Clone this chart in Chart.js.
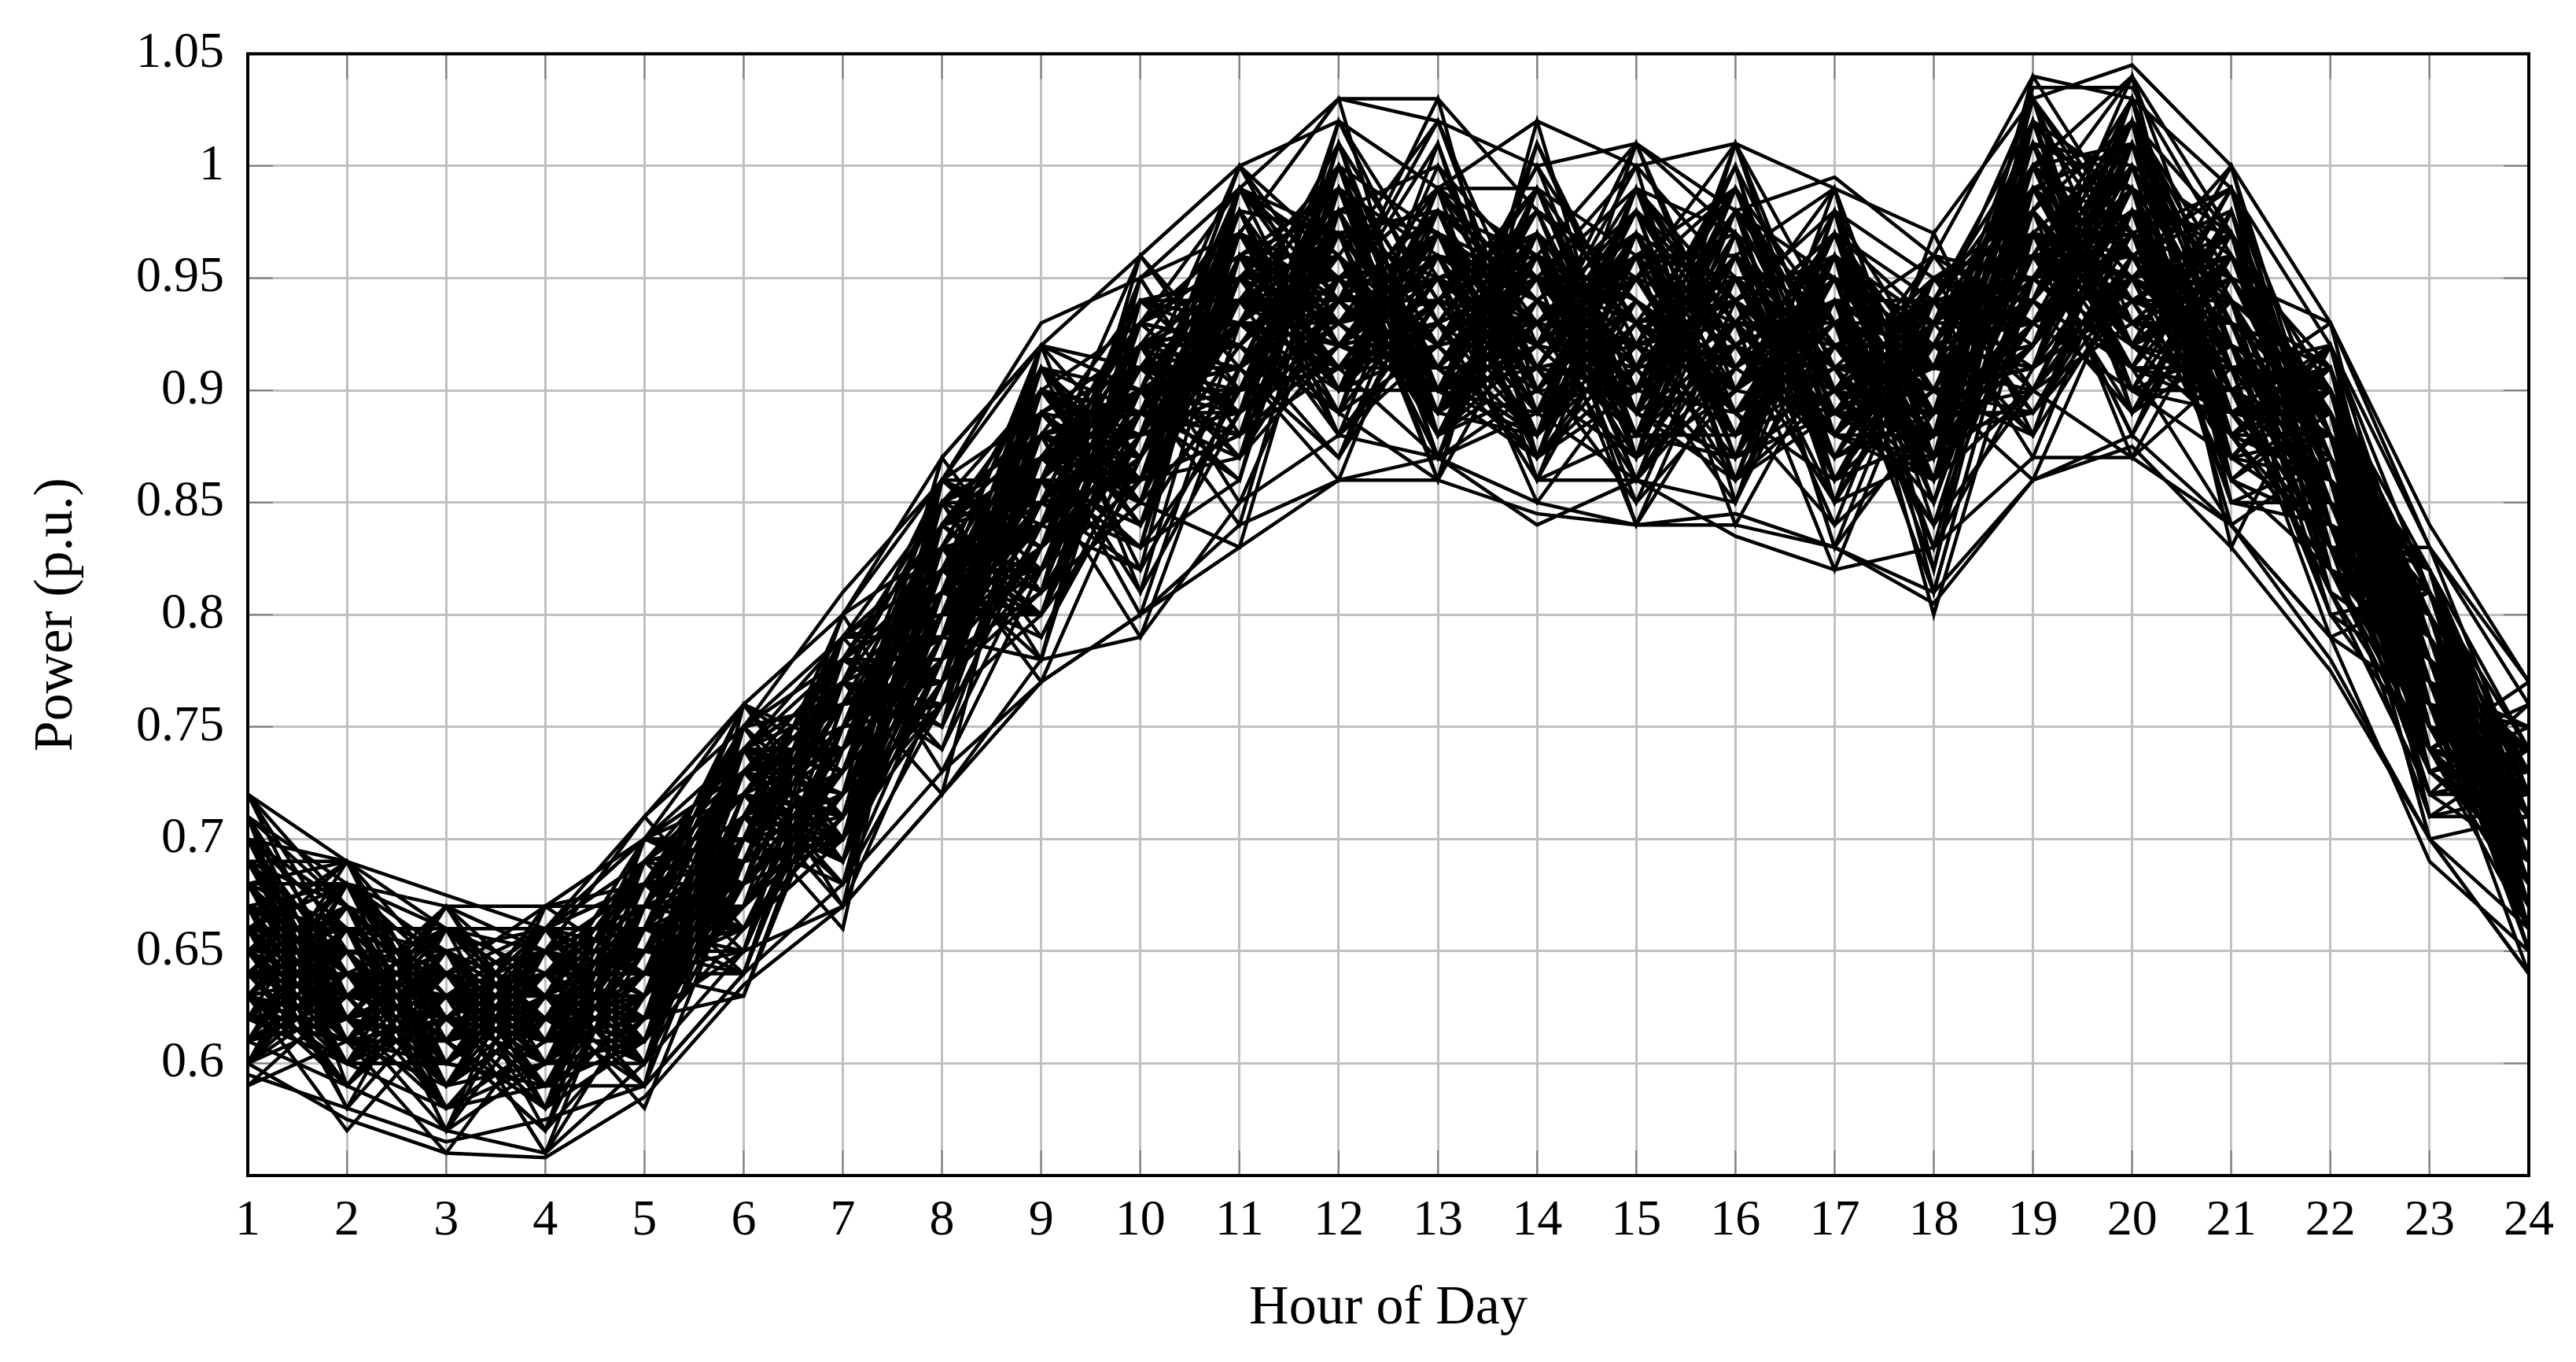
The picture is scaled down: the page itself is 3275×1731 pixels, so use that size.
<!DOCTYPE html>
<html>
<head>
<meta charset="utf-8">
<script src="https://cdn.jsdelivr.net/npm/chart.js@4.4.1/dist/chart.umd.min.js"></script>
<style>
  html, body { margin: 0; padding: 0; background: #fff; }
  #wrap { width: 3275px; height: 1731px; }
</style>
</head>
<body>
<div id="wrap"><canvas id="loadChart" width="3275" height="1731"></canvas></div>
<script>
// hours on the x axis
const hours = [1, 2, 3, 4, 5, 6, 7, 8, 9, 10, 11, 12, 13, 14, 15, 16, 17, 18, 19, 20, 21, 22, 23, 24];
// y axis ticks (p.u.)
const yTicks = [0.55, 0.6, 0.65, 0.7, 0.75, 0.8, 0.85, 0.9, 0.95, 1, 1.05];

// daily load profiles
const profile01 = [0.72, 0.69, 0.66, 0.63, 0.68, 0.74, 0.78, 0.84, 0.90, 0.93, 0.97, 1.03, 1.03, 0.98, 0.95, 0.97, 0.93, 0.91, 1.00, 1.04, 0.97, 0.90, 0.81, 0.74];
const profile02 = [0.60, 0.575, 0.56, 0.558, 0.585, 0.635, 0.67, 0.72, 0.77, 0.80, 0.84, 0.86, 0.87, 0.85, 0.84, 0.84, 0.83, 0.81, 0.86, 0.88, 0.84, 0.78, 0.70, 0.64];
const profile03 = [0.65, 0.62, 0.64, 0.60, 0.66, 0.71, 0.73, 0.80, 0.85, 0.86, 0.93, 0.96, 0.91, 0.95, 0.90, 0.94, 0.90, 0.88, 0.96, 0.94, 0.92, 0.86, 0.77, 0.71];
const profile04 = [0.68, 0.60, 0.62, 0.65, 0.63, 0.69, 0.76, 0.77, 0.87, 0.90, 0.89, 0.93, 0.97, 0.91, 0.96, 0.89, 0.93, 0.86, 0.93, 0.99, 0.88, 0.83, 0.79, 0.68];
const profile05 = [0.62, 0.66, 0.59, 0.62, 0.67, 0.68, 0.72, 0.82, 0.82, 0.88, 0.95, 0.90, 0.94, 0.99, 0.88, 0.92, 0.96, 0.90, 0.91, 0.97, 0.95, 0.87, 0.74, 0.72];
const profile06 = [0.70, 0.64, 0.61, 0.58, 0.61, 0.72, 0.70, 0.79, 0.86, 0.84, 0.91, 0.99, 0.89, 0.92, 1.00, 0.95, 0.87, 0.93, 0.98, 0.92, 0.90, 0.81, 0.78, 0.66];
const profile07 = [0.61, 0.63, 0.67, 0.61, 0.64, 0.66, 0.75, 0.76, 0.80, 0.92, 0.87, 0.94, 1.01, 0.87, 0.93, 0.99, 0.91, 0.84, 0.95, 1.01, 0.86, 0.84, 0.73, 0.70];
const profile08 = [0.66, 0.68, 0.63, 0.66, 0.60, 0.70, 0.68, 0.81, 0.88, 0.85, 0.96, 0.88, 0.92, 0.96, 0.86, 0.91, 0.95, 0.89, 1.035, 1.035, 0.96, 0.89, 0.76, 0.75];
const profile09 = [0.64, 0.59, 0.57, 0.63, 0.69, 0.65, 0.79, 0.74, 0.83, 0.91, 0.94, 0.97, 0.88, 0.94, 0.98, 0.86, 0.89, 0.95, 0.89, 0.96, 0.99, 0.82, 0.80, 0.69];
const profile10 = [0.69, 0.67, 0.65, 0.57, 0.62, 0.75, 0.71, 0.85, 0.79, 0.87, 0.98, 0.92, 0.96, 0.89, 0.91, 1.00, 0.85, 0.87, 0.94, 1.03, 0.87, 0.91, 0.75, 0.72];
const profile11 = [0.59, 0.61, 0.64, 0.66, 0.65, 0.67, 0.73, 0.78, 0.91, 0.82, 0.90, 1.00, 0.93, 0.90, 0.87, 0.93, 0.99, 0.82, 0.99, 0.93, 0.93, 0.85, 0.82, 0.67];
const profile12 = [0.67, 0.65, 0.58, 0.61, 0.70, 0.73, 0.69, 0.83, 0.84, 0.95, 0.88, 0.95, 0.99, 0.86, 0.94, 0.89, 0.92, 0.94, 0.87, 0.98, 0.89, 0.88, 0.71, 0.74];
const profile13 = [0.63, 0.68, 0.62, 0.59, 0.59, 0.64, 0.77, 0.75, 0.87, 0.83, 0.97, 0.89, 0.86, 1.01, 0.92, 0.87, 0.94, 0.91, 1.02, 0.89, 0.94, 0.80, 0.77, 0.71];
const profile14 = [0.71, 0.62, 0.60, 0.64, 0.66, 0.76, 0.74, 0.82, 0.80, 0.89, 0.86, 1.02, 0.95, 0.92, 0.88, 0.97, 0.83, 0.89, 0.92, 1.02, 0.83, 0.92, 0.79, 0.65];
const profile15 = [0.66, 0.58, 0.66, 0.62, 0.61, 0.71, 0.66, 0.86, 0.86, 0.86, 0.99, 0.93, 0.90, 0.88, 1.01, 0.90, 0.97, 0.85, 0.97, 0.95, 1.00, 0.84, 0.72, 0.73];
const profile16 = [0.60, 0.64, 0.61, 0.67, 0.68, 0.68, 0.80, 0.73, 0.82, 0.93, 0.92, 0.87, 0.98, 0.96, 0.85, 0.95, 0.88, 0.96, 0.90, 0.87, 0.91, 0.79, 0.81, 0.70];
const profile17 = [0.68, 0.66, 0.57, 0.60, 0.64, 0.70, 0.72, 0.87, 0.92, 0.81, 0.89, 0.97, 0.92, 0.93, 0.96, 0.84, 0.92, 0.88, 1.04, 0.97, 0.85, 0.87, 0.74, 0.68];
const profile18 = [0.62, 0.60, 0.63, 0.56, 0.63, 0.74, 0.76, 0.79, 0.78, 0.94, 0.94, 0.91, 0.87, 0.99, 0.90, 0.98, 0.86, 0.92, 0.88, 1.00, 0.97, 0.83, 0.83, 0.76];
const profile19 = [0.65, 0.69, 0.60, 0.65, 0.71, 0.66, 0.71, 0.77, 0.89, 0.88, 1.00, 0.94, 1.02, 0.90, 0.94, 0.88, 0.96, 0.80, 0.95, 0.91, 0.90, 0.93, 0.76, 0.64];
const profile20 = [0.70, 0.63, 0.65, 0.63, 0.58, 0.69, 0.78, 0.81, 0.84, 0.90, 0.84, 0.99, 0.91, 0.87, 0.99, 0.93, 0.82, 0.93, 0.99, 0.94, 0.88, 0.86, 0.70, 0.71];
const profile21 = [0.63, 0.57, 0.62, 0.59, 0.67, 0.72, 0.68, 0.84, 0.81, 0.96, 0.91, 0.86, 0.97, 0.94, 0.89, 1.01, 0.93, 0.87, 0.92, 1.01, 0.94, 0.81, 0.78, 0.73];
const profile22 = [0.67, 0.64, 0.59, 0.66, 0.65, 0.64, 0.75, 0.80, 0.90, 0.84, 0.95, 0.96, 0.88, 0.97, 0.84, 0.91, 0.97, 0.90, 0.86, 0.96, 0.98, 0.87, 0.73, 0.69];
const profile23 = [0.61, 0.66, 0.64, 0.60, 0.60, 0.70, 0.70, 0.76, 0.85, 0.91, 0.87, 1.01, 0.94, 0.89, 0.97, 0.86, 0.90, 0.94, 1.01, 0.89, 0.92, 0.84, 0.80, 0.67];
const profile24 = [0.69, 0.61, 0.56, 0.62, 0.69, 0.73, 0.74, 0.83, 0.77, 0.87, 0.96, 0.90, 1.00, 0.91, 0.92, 0.94, 0.84, 0.88, 0.94, 1.04, 0.86, 0.90, 0.77, 0.75];
const profile25 = [0.64, 0.67, 0.63, 0.64, 0.62, 0.67, 0.72, 0.78, 0.88, 0.80, 0.93, 0.97, 0.86, 1.02, 0.87, 0.90, 0.98, 0.81, 0.97, 0.92, 0.99, 0.82, 0.75, 0.70];
const profile26 = [0.66, 0.62, 0.61, 0.57, 0.66, 0.75, 0.69, 0.85, 0.83, 0.89, 0.89, 0.92, 0.95, 0.88, 0.95, 0.99, 0.89, 0.91, 0.90, 0.99, 0.87, 0.88, 0.82, 0.66];
const profile27 = [0.72, 0.65, 0.58, 0.63, 0.63, 0.69, 0.77, 0.74, 0.86, 0.92, 0.98, 0.88, 0.93, 0.95, 1.00, 0.85, 0.94, 0.86, 1.03, 0.93, 0.95, 0.86, 0.72, 0.72];
const profile28 = [0.60, 0.68, 0.66, 0.61, 0.68, 0.66, 0.70, 0.82, 0.91, 0.85, 0.83, 0.98, 0.89, 0.92, 0.91, 0.96, 0.91, 0.95, 0.93, 0.97, 0.90, 0.91, 0.79, 0.69];
const profile29 = [0.62, 0.60, 0.60, 0.65, 0.61, 0.71, 0.79, 0.80, 0.80, 0.93, 0.95, 0.95, 0.99, 0.86, 0.86, 0.92, 0.87, 0.89, 0.96, 0.91, 0.84, 0.79, 0.76, 0.74];
const profile30 = [0.68, 0.64, 0.62, 0.58, 0.70, 0.74, 0.67, 0.77, 0.89, 0.86, 0.97, 1.03, 0.88, 0.96, 0.93, 0.89, 0.95, 0.83, 0.99, 1.01, 0.93, 0.85, 0.78, 0.65];
const profile31 = [0.65, 0.66, 0.57, 0.67, 0.64, 0.63, 0.74, 0.86, 0.84, 0.82, 0.90, 0.91, 0.96, 0.93, 0.98, 0.94, 0.85, 0.97, 0.88, 0.95, 0.97, 0.83, 0.71, 0.71];
const profile32 = [0.63, 0.59, 0.65, 0.62, 0.59, 0.70, 0.76, 0.79, 0.86, 0.94, 0.92, 0.89, 0.92, 1.00, 0.89, 0.87, 0.99, 0.87, 1.02, 0.90, 0.89, 0.89, 0.80, 0.68];
const profile33 = [0.70, 0.67, 0.63, 0.56, 0.67, 0.72, 0.71, 0.81, 0.79, 0.88, 1.00, 0.96, 0.87, 0.90, 0.95, 1.01, 0.88, 0.92, 0.91, 1.03, 0.85, 0.84, 0.74, 0.76];
const profile34 = [0.61, 0.63, 0.59, 0.64, 0.62, 0.65, 0.78, 0.75, 0.92, 0.90, 0.88, 0.94, 1.03, 0.87, 0.90, 0.93, 0.92, 0.90, 0.97, 0.88, 0.96, 0.87, 0.77, 0.70];
const profile35 = [0.66, 0.61, 0.67, 0.60, 0.65, 0.69, 0.73, 0.84, 0.87, 0.85, 0.94, 0.99, 0.91, 0.97, 0.86, 0.85, 0.96, 0.86, 0.95, 1.00, 0.92, 0.80, 0.81, 0.67];
const profile36 = [0.67, 0.65, 0.60, 0.65, 0.71, 0.76, 0.70, 0.78, 0.83, 0.91, 0.91, 0.87, 0.94, 0.92, 1.01, 0.97, 0.83, 0.94, 0.89, 0.96, 0.88, 0.92, 0.75, 0.73];
const profile37 = [0.64, 0.68, 0.61, 0.62, 0.61, 0.68, 0.80, 0.83, 0.88, 0.87, 0.97, 0.93, 0.89, 0.88, 0.93, 0.90, 0.93, 0.88, 1.01, 0.92, 1.00, 0.86, 0.72, 0.69];
const profile38 = [0.69, 0.62, 0.64, 0.59, 0.66, 0.71, 0.75, 0.80, 0.85, 0.83, 0.86, 1.00, 0.97, 0.94, 0.88, 0.99, 0.90, 0.96, 0.93, 0.98, 0.91, 0.85, 0.79, 0.71];
const profile39 = [0.62, 0.66, 0.62, 0.66, 0.63, 0.67, 0.72, 0.87, 0.81, 0.92, 0.93, 0.92, 0.90, 0.99, 0.96, 0.88, 0.97, 0.84, 0.98, 0.87, 0.95, 0.88, 0.78, 0.66];
const profile40 = [0.67, 0.60, 0.58, 0.61, 0.68, 0.73, 0.68, 0.76, 0.90, 0.89, 0.90, 0.97, 0.95, 0.85, 0.91, 0.96, 0.86, 0.92, 0.91, 1.02, 0.93, 0.82, 0.73, 0.74];
const profile41 = [0.70, 0.66, 0.62, 0.61, 0.64, 0.71, 0.74, 0.78, 0.81, 0.85, 0.95, 1.00, 0.90, 0.87, 0.92, 1.00, 0.86, 0.94, 1.00, 0.90, 0.87, 0.84, 0.76, 0.70];
const profile42 = [0.63, 0.62, 0.66, 0.63, 0.70, 0.69, 0.70, 0.84, 0.86, 0.79, 0.91, 0.87, 0.96, 0.95, 0.84, 0.94, 0.91, 0.86, 0.94, 0.99, 0.95, 0.93, 0.83, 0.72];
const profile43 = [0.66, 0.60, 0.60, 0.64, 0.60, 0.74, 0.77, 0.72, 0.89, 0.92, 0.85, 0.95, 0.92, 1.00, 0.93, 0.86, 0.98, 0.91, 0.92, 1.03, 0.91, 0.80, 0.74, 0.77];
const profile44 = [0.61, 0.67, 0.58, 0.59, 0.66, 0.65, 0.75, 0.82, 0.78, 0.95, 0.97, 0.89, 1.01, 0.89, 0.98, 0.92, 0.85, 0.93, 0.97, 0.88, 0.98, 0.86, 0.70, 0.66];
const profile45 = [0.68, 0.63, 0.65, 0.62, 0.62, 0.72, 0.67, 0.86, 0.92, 0.87, 0.93, 0.98, 0.86, 0.94, 0.90, 0.98, 0.89, 0.88, 0.89, 0.95, 0.86, 0.89, 0.79, 0.71];
const profile46 = [0.64, 0.65, 0.61, 0.67, 0.67, 0.67, 0.79, 0.79, 0.82, 0.90, 1.00, 0.92, 0.95, 0.91, 0.85, 0.90, 0.94, 0.82, 1.02, 0.97, 0.92, 0.82, 0.78, 0.68];
const profile47 = [0.71, 0.59, 0.63, 0.60, 0.65, 0.70, 0.72, 0.80, 0.87, 0.83, 0.89, 1.02, 0.93, 0.86, 0.97, 0.88, 0.93, 0.96, 0.95, 0.91, 0.99, 0.88, 0.73, 0.74];
const profile48 = [0.60, 0.66, 0.64, 0.63, 0.59, 0.76, 0.73, 0.84, 0.85, 0.94, 0.94, 0.94, 0.89, 1.01, 0.91, 0.95, 0.87, 0.90, 0.91, 1.02, 0.89, 0.83, 0.81, 0.69];
const profile49 = [0.67, 0.62, 0.57, 0.65, 0.68, 0.64, 0.76, 0.77, 0.91, 0.86, 0.87, 0.97, 0.98, 0.88, 0.99, 0.87, 0.96, 0.85, 0.99, 0.93, 0.93, 0.91, 0.77, 0.65];
const profile50 = [0.62, 0.69, 0.62, 0.58, 0.63, 0.71, 0.69, 0.83, 0.80, 0.89, 0.98, 0.90, 0.92, 0.97, 0.87, 1.01, 0.90, 0.89, 0.93, 0.98, 0.85, 0.85, 0.75, 0.73];
const profile51 = [0.69, 0.64, 0.60, 0.66, 0.70, 0.73, 0.78, 0.75, 0.84, 0.93, 0.92, 0.96, 1.02, 0.92, 0.95, 0.89, 0.84, 0.95, 0.96, 0.89, 0.96, 0.87, 0.80, 0.70];
const profile52 = [0.65, 0.61, 0.65, 0.61, 0.61, 0.66, 0.71, 0.81, 0.88, 0.81, 0.96, 0.88, 0.94, 0.93, 0.86, 0.96, 0.99, 0.87, 1.03, 0.96, 0.90, 0.81, 0.72, 0.76];
const profile53 = [0.72, 0.67, 0.59, 0.62, 0.66, 0.70, 0.80, 0.86, 0.83, 0.91, 0.89, 0.99, 0.87, 0.96, 1.01, 0.91, 0.88, 0.93, 0.88, 1.01, 0.94, 0.90, 0.78, 0.67];
const profile54 = [0.59, 0.63, 0.63, 0.64, 0.64, 0.74, 0.70, 0.78, 0.90, 0.88, 0.93, 0.93, 0.97, 0.87, 0.92, 0.93, 0.93, 0.81, 0.97, 0.94, 0.87, 0.86, 0.82, 0.71];
const profile55 = [0.66, 0.65, 0.61, 0.57, 0.69, 0.68, 0.74, 0.80, 0.86, 0.96, 0.90, 0.91, 0.91, 0.98, 0.88, 0.88, 0.97, 0.91, 0.92, 1.00, 0.97, 0.83, 0.76, 0.72];
const profile56 = [0.63, 0.60, 0.67, 0.63, 0.62, 0.63, 0.75, 0.84, 0.81, 0.85, 0.99, 0.95, 0.96, 0.90, 0.96, 0.99, 0.87, 0.94, 0.95, 0.92, 0.91, 0.92, 0.74, 0.69];
const profile57 = [0.68, 0.68, 0.62, 0.65, 0.60, 0.71, 0.69, 0.79, 0.92, 0.90, 0.86, 1.01, 0.90, 0.94, 0.89, 0.86, 0.92, 0.89, 1.01, 0.99, 0.84, 0.87, 0.80, 0.73];
const profile58 = [0.64, 0.62, 0.58, 0.61, 0.67, 0.75, 0.78, 0.82, 0.84, 0.87, 0.95, 0.89, 0.99, 0.99, 0.93, 0.94, 0.90, 0.84, 0.90, 0.95, 0.96, 0.84, 0.77, 0.66];
const profile59 = [0.70, 0.66, 0.64, 0.60, 0.63, 0.69, 0.73, 0.85, 0.78, 0.92, 0.91, 0.96, 0.88, 0.91, 0.97, 0.90, 0.95, 0.92, 0.98, 1.04, 0.92, 0.89, 0.71, 0.72];
const profile60 = [0.61, 0.64, 0.61, 0.66, 0.65, 0.66, 0.71, 0.76, 0.89, 0.84, 0.97, 0.92, 0.93, 0.86, 0.88, 0.97, 0.86, 0.88, 0.93, 0.90, 0.98, 0.82, 0.79, 0.70];
const profile61 = [0.67, 0.58, 0.63, 0.63, 0.70, 0.72, 0.77, 0.81, 0.82, 0.89, 0.88, 0.98, 1.00, 0.95, 0.91, 0.85, 0.98, 0.95, 0.96, 0.97, 0.89, 0.90, 0.76, 0.75];
const profile62 = [0.65, 0.67, 0.60, 0.59, 0.61, 0.70, 0.72, 0.79, 0.88, 0.94, 0.93, 0.90, 0.90, 0.92, 0.99, 0.92, 0.89, 0.86, 1.00, 0.92, 0.95, 0.86, 0.74, 0.68];
const profile63 = [0.62, 0.61, 0.66, 0.64, 0.66, 0.64, 0.76, 0.84, 0.85, 0.82, 0.99, 0.94, 0.94, 0.98, 0.87, 0.98, 0.93, 0.90, 0.91, 0.99, 0.90, 0.83, 0.81, 0.71];
const profile64 = [0.69, 0.65, 0.59, 0.62, 0.63, 0.73, 0.70, 0.77, 0.91, 0.90, 0.91, 1.00, 0.87, 0.89, 0.94, 0.89, 0.96, 0.93, 0.97, 0.88, 0.96, 0.91, 0.78, 0.65];
const profile65 = [0.66, 0.63, 0.62, 0.66, 0.68, 0.71, 0.79, 0.83, 0.80, 0.86, 0.96, 0.93, 0.96, 0.94, 0.90, 0.94, 0.88, 0.87, 1.02, 0.96, 0.93, 0.85, 0.75, 0.73];
const profile66 = [0.60, 0.66, 0.64, 0.61, 0.64, 0.67, 0.73, 0.80, 0.87, 0.93, 0.89, 0.97, 0.91, 0.87, 0.96, 0.96, 0.91, 0.91, 0.94, 1.02, 0.88, 0.88, 0.80, 0.69];
const profile67 = [0.68, 0.62, 0.61, 0.64, 0.59, 0.75, 0.71, 0.86, 0.83, 0.88, 0.94, 0.88, 0.99, 0.96, 0.88, 0.87, 0.97, 0.89, 0.89, 0.94, 0.97, 0.84, 0.72, 0.72];
const profile68 = [0.63, 0.68, 0.65, 0.60, 0.67, 0.69, 0.78, 0.78, 0.86, 0.91, 0.97, 0.95, 0.88, 0.92, 0.98, 0.93, 0.89, 0.94, 0.99, 0.91, 0.91, 0.90, 0.79, 0.67];
const profile69 = [0.71, 0.64, 0.60, 0.65, 0.66, 0.68, 0.74, 0.81, 0.89, 0.85, 0.90, 0.99, 0.93, 0.99, 0.89, 0.98, 0.85, 0.92, 0.93, 1.01, 0.86, 0.82, 0.77, 0.74];
const profile70 = [0.64, 0.60, 0.63, 0.62, 0.62, 0.72, 0.69, 0.83, 0.82, 0.92, 0.95, 0.91, 0.97, 0.90, 0.95, 0.90, 0.95, 0.85, 0.97, 0.96, 0.94, 0.87, 0.74, 0.70];
const profile71 = [0.67, 0.66, 0.66, 0.58, 0.65, 0.65, 0.75, 0.76, 0.90, 0.87, 0.98, 0.97, 0.91, 0.88, 0.93, 0.95, 0.92, 0.91, 1.00, 0.90, 0.90, 0.86, 0.81, 0.72];
const profile72 = [0.62, 0.63, 0.58, 0.63, 0.69, 0.74, 0.72, 0.82, 0.84, 0.89, 0.87, 0.94, 0.95, 0.97, 0.87, 0.91, 0.97, 0.88, 0.92, 0.99, 0.96, 0.89, 0.76, 0.68];
const profile73 = [0.69, 0.67, 0.62, 0.66, 0.61, 0.70, 0.77, 0.85, 0.88, 0.86, 0.93, 1.00, 0.89, 0.94, 0.97, 0.87, 0.90, 0.93, 0.96, 0.93, 0.92, 0.84, 0.78, 0.71];
const profile74 = [0.65, 0.59, 0.64, 0.61, 0.66, 0.66, 0.71, 0.79, 0.86, 0.93, 0.96, 0.90, 0.98, 0.91, 0.90, 0.99, 0.88, 0.86, 1.01, 1.00, 0.87, 0.91, 0.73, 0.75];
const profile75 = [0.60, 0.65, 0.61, 0.64, 0.68, 0.73, 0.76, 0.77, 0.81, 0.88, 0.90, 0.96, 0.92, 0.96, 0.94, 0.89, 0.95, 0.90, 0.89, 0.97, 0.99, 0.83, 0.80, 0.66];
const profile76 = [0.68, 0.61, 0.65, 0.60, 0.63, 0.68, 0.73, 0.84, 0.90, 0.84, 0.97, 0.92, 0.96, 0.89, 0.99, 0.93, 0.87, 0.95, 0.94, 0.91, 0.89, 0.88, 0.75, 0.73];
const profile77 = [0.66, 0.66, 0.59, 0.65, 0.64, 0.71, 0.70, 0.80, 0.85, 0.91, 0.92, 0.98, 0.90, 0.97, 0.86, 0.97, 0.93, 0.89, 0.98, 1.02, 0.94, 0.85, 0.77, 0.69];
const profile78 = [0.63, 0.64, 0.63, 0.59, 0.67, 0.75, 0.78, 0.81, 0.87, 0.86, 0.95, 0.91, 0.97, 0.93, 0.92, 0.88, 0.96, 0.87, 0.90, 0.95, 0.91, 0.90, 0.82, 0.72];
const profile79 = [0.70, 0.62, 0.60, 0.63, 0.62, 0.67, 0.72, 0.78, 0.83, 0.95, 0.88, 1.01, 0.94, 0.88, 0.96, 0.95, 0.86, 0.93, 1.03, 0.89, 0.97, 0.81, 0.74, 0.70];
const profile80 = [0.64, 0.68, 0.64, 0.67, 0.70, 0.70, 0.75, 0.83, 0.91, 0.89, 0.94, 0.95, 0.89, 0.95, 0.89, 0.92, 0.94, 0.91, 0.95, 0.98, 0.88, 0.86, 0.79, 0.68];
const profile81 = [0.595, 0.58, 0.565, 0.575, 0.59, 0.64, 0.68, 0.73, 0.77, 0.80, 0.83, 0.86, 0.86, 0.845, 0.84, 0.845, 0.83, 0.805, 0.86, 0.875, 0.83, 0.775, 0.70, 0.64];
const profile82 = [0.61, 0.59, 0.57, 0.56, 0.60, 0.65, 0.67, 0.72, 0.78, 0.79, 0.85, 0.88, 0.87, 0.84, 0.86, 0.835, 0.82, 0.83, 0.87, 0.87, 0.84, 0.79, 0.69, 0.65];
const profile83 = [0.71, 0.68, 0.67, 0.67, 0.70, 0.76, 0.80, 0.87, 0.92, 0.96, 1.00, 1.02, 0.99, 1.02, 1.00, 1.01, 0.99, 0.97, 1.03, 1.045, 1.00, 0.93, 0.84, 0.77];
const profile84 = [0.70, 0.69, 0.675, 0.66, 0.71, 0.75, 0.81, 0.86, 0.93, 0.95, 0.99, 1.03, 1.02, 1.00, 1.01, 0.98, 0.995, 0.96, 1.04, 1.03, 0.99, 0.92, 0.83, 0.77];
const profile85 = [0.69, 0.63, 0.64, 0.61, 0.67, 0.73, 0.71, 0.81, 0.86, 0.90, 0.93, 0.89, 0.95, 0.93, 0.88, 0.95, 0.89, 0.92, 0.98, 0.93, 0.95, 0.87, 0.76, 0.69];
const profile86 = [0.62, 0.65, 0.60, 0.63, 0.63, 0.68, 0.77, 0.79, 0.83, 0.87, 0.96, 0.98, 0.90, 0.96, 0.93, 0.91, 0.94, 0.87, 0.92, 0.97, 0.89, 0.85, 0.79, 0.73];
const profile87 = [0.67, 0.61, 0.62, 0.66, 0.69, 0.70, 0.73, 0.84, 0.89, 0.84, 0.91, 0.94, 0.98, 0.90, 0.97, 0.88, 0.91, 0.90, 1.00, 0.95, 0.92, 0.90, 0.75, 0.70];
const profile88 = [0.64, 0.67, 0.65, 0.62, 0.60, 0.72, 0.76, 0.77, 0.82, 0.92, 0.94, 0.92, 0.93, 0.99, 0.90, 0.97, 0.87, 0.94, 0.94, 0.99, 0.86, 0.84, 0.80, 0.67];
const profile89 = [0.71, 0.64, 0.58, 0.60, 0.65, 0.66, 0.70, 0.82, 0.87, 0.88, 0.89, 0.99, 0.88, 0.93, 0.95, 0.93, 0.97, 0.88, 0.97, 0.90, 0.96, 0.88, 0.73, 0.75];
const profile90 = [0.60, 0.62, 0.63, 0.65, 0.66, 0.74, 0.74, 0.80, 0.84, 0.91, 0.97, 0.91, 0.96, 0.87, 0.92, 0.90, 0.93, 0.83, 0.91, 1.01, 0.90, 0.83, 0.78, 0.71];
const profile91 = [0.66, 0.69, 0.61, 0.62, 0.62, 0.69, 0.78, 0.85, 0.90, 0.86, 0.92, 0.96, 0.91, 0.95, 0.99, 0.94, 0.88, 0.92, 0.99, 0.94, 0.93, 0.89, 0.81, 0.68];
const profile92 = [0.63, 0.60, 0.64, 0.58, 0.68, 0.71, 0.69, 0.78, 0.85, 0.94, 0.90, 0.93, 0.99, 0.91, 0.87, 0.98, 0.92, 0.89, 0.95, 0.96, 0.98, 0.86, 0.76, 0.73];
const profile93 = [0.68, 0.66, 0.60, 0.64, 0.64, 0.65, 0.75, 0.83, 0.81, 0.85, 0.98, 0.90, 0.94, 0.97, 0.91, 0.86, 0.96, 0.91, 1.02, 0.92, 0.88, 0.82, 0.74, 0.66];
const profile94 = [0.65, 0.63, 0.66, 0.63, 0.61, 0.73, 0.72, 0.76, 0.88, 0.89, 0.93, 1.01, 0.88, 0.90, 0.96, 0.92, 0.90, 0.86, 0.90, 0.98, 0.94, 0.91, 0.79, 0.72];
const profile95 = [0.61, 0.67, 0.62, 0.60, 0.69, 0.70, 0.77, 0.86, 0.83, 0.92, 0.87, 0.92, 0.97, 0.94, 0.89, 0.95, 0.95, 0.93, 0.96, 1.03, 0.91, 0.85, 0.77, 0.70];
const profile96 = [0.70, 0.61, 0.59, 0.66, 0.63, 0.67, 0.71, 0.80, 0.91, 0.87, 0.95, 0.97, 0.92, 0.88, 0.94, 0.89, 0.86, 0.90, 0.98, 0.91, 0.96, 0.88, 0.82, 0.74];
const profile97 = [0.64, 0.64, 0.64, 0.61, 0.66, 0.75, 0.79, 0.79, 0.86, 0.83, 0.99, 0.90, 0.95, 0.96, 0.90, 1.00, 0.91, 0.87, 0.93, 0.97, 0.87, 0.92, 0.75, 0.67];
const profile98 = [0.67, 0.68, 0.61, 0.63, 0.60, 0.68, 0.73, 0.84, 0.80, 0.90, 0.91, 0.95, 0.89, 0.92, 0.98, 0.91, 0.97, 0.94, 0.91, 0.95, 0.93, 0.84, 0.78, 0.71];
const profile99 = [0.62, 0.62, 0.67, 0.65, 0.68, 0.72, 0.68, 0.78, 0.87, 0.93, 0.96, 0.99, 0.96, 0.89, 0.86, 0.93, 0.89, 0.89, 0.99, 0.99, 0.90, 0.87, 0.80, 0.69];
const profile100 = [0.69, 0.65, 0.60, 0.59, 0.64, 0.64, 0.76, 0.82, 0.85, 0.86, 0.88, 0.91, 0.93, 0.98, 0.95, 0.88, 0.94, 0.92, 0.94, 0.89, 0.97, 0.90, 0.73, 0.74];
const profile101 = [0.66, 0.60, 0.63, 0.64, 0.65, 0.71, 0.74, 0.81, 0.92, 0.91, 0.94, 0.96, 0.90, 0.93, 0.89, 0.96, 0.90, 0.85, 1.00, 0.96, 0.89, 0.83, 0.77, 0.68];
const profile102 = [0.63, 0.66, 0.62, 0.62, 0.67, 0.76, 0.71, 0.77, 0.83, 0.88, 0.97, 0.92, 0.98, 0.95, 0.93, 0.90, 0.96, 0.90, 0.88, 1.00, 0.92, 0.86, 0.81, 0.72];
const profile103 = [0.72, 0.63, 0.65, 0.60, 0.61, 0.69, 0.79, 0.85, 0.88, 0.90, 0.90, 0.98, 0.91, 0.91, 0.97, 0.94, 0.88, 0.93, 0.96, 0.93, 0.95, 0.89, 0.76, 0.70];
const profile104 = [0.61, 0.68, 0.59, 0.66, 0.68, 0.66, 0.72, 0.80, 0.86, 0.84, 0.95, 0.93, 0.95, 0.88, 0.92, 0.99, 0.93, 0.88, 1.01, 0.90, 0.90, 0.85, 0.74, 0.73];
const profile105 = [0.68, 0.62, 0.64, 0.62, 0.63, 0.73, 0.75, 0.83, 0.82, 0.93, 0.92, 0.96, 0.87, 0.97, 0.88, 0.87, 0.95, 0.91, 0.92, 0.98, 0.87, 0.91, 0.79, 0.66];
const profile106 = [0.65, 0.65, 0.61, 0.58, 0.70, 0.68, 0.70, 0.79, 0.90, 0.87, 0.98, 0.90, 0.97, 0.92, 0.96, 0.92, 0.89, 0.95, 0.97, 0.94, 0.94, 0.84, 0.82, 0.71];
const profile107 = [0.63, 0.61, 0.66, 0.65, 0.62, 0.71, 0.77, 0.76, 0.84, 0.91, 0.89, 1.00, 0.93, 0.95, 0.91, 0.95, 0.92, 0.86, 0.95, 1.02, 0.91, 0.88, 0.76, 0.69];
const profile108 = [0.70, 0.67, 0.60, 0.63, 0.66, 0.74, 0.73, 0.85, 0.87, 0.85, 0.96, 0.94, 0.90, 0.89, 0.99, 0.89, 0.96, 0.92, 0.99, 0.92, 0.96, 0.87, 0.78, 0.74];
const profile109 = [0.67, 0.64, 0.63, 0.61, 0.64, 0.67, 0.71, 0.81, 0.89, 0.92, 0.93, 0.89, 0.99, 0.94, 0.87, 0.97, 0.87, 0.89, 0.90, 0.96, 0.88, 0.82, 0.80, 0.67];
const profile110 = [0.62, 0.60, 0.65, 0.66, 0.69, 0.70, 0.78, 0.78, 0.81, 0.88, 0.99, 0.97, 0.92, 0.98, 0.94, 0.91, 0.94, 0.94, 1.02, 0.99, 0.93, 0.90, 0.75, 0.72];
const profile111 = [0.66, 0.66, 0.59, 0.60, 0.61, 0.72, 0.74, 0.84, 0.88, 0.90, 0.91, 0.95, 0.96, 0.90, 0.90, 0.94, 0.98, 0.87, 0.94, 0.91, 0.99, 0.86, 0.77, 0.70];
const profile112 = [0.64, 0.63, 0.62, 0.64, 0.67, 0.66, 0.70, 0.80, 0.85, 0.94, 0.95, 0.99, 0.89, 0.93, 0.97, 0.88, 0.90, 0.91, 0.97, 1.01, 0.89, 0.89, 0.81, 0.68];
const profile113 = [0.69, 0.69, 0.64, 0.62, 0.63, 0.75, 0.76, 0.77, 0.91, 0.86, 0.88, 0.92, 0.95, 0.96, 0.89, 0.96, 0.93, 0.93, 0.93, 0.95, 0.92, 0.84, 0.74, 0.73];
const profile114 = [0.61, 0.62, 0.61, 0.65, 0.68, 0.69, 0.73, 0.83, 0.84, 0.89, 0.97, 0.94, 0.91, 0.88, 0.95, 0.90, 0.89, 0.88, 1.00, 0.97, 0.95, 0.87, 0.79, 0.71];
const profile115 = [0.65, 0.65, 0.65, 0.59, 0.62, 0.71, 0.79, 0.82, 0.86, 0.92, 0.92, 0.97, 0.98, 0.94, 0.92, 0.98, 0.95, 0.90, 0.91, 1.02, 0.88, 0.91, 0.76, 0.66];
const profile116 = [0.68, 0.61, 0.60, 0.63, 0.66, 0.73, 0.70, 0.79, 0.82, 0.86, 0.96, 0.91, 0.92, 0.97, 0.88, 0.93, 0.88, 0.95, 0.98, 0.93, 0.97, 0.85, 0.78, 0.74];
const profile117 = [0.63, 0.67, 0.63, 0.66, 0.64, 0.67, 0.75, 0.86, 0.89, 0.91, 0.90, 0.98, 0.90, 0.91, 0.98, 0.87, 0.97, 0.86, 0.96, 0.96, 0.90, 0.88, 0.82, 0.69];
const profile118 = [0.70, 0.64, 0.62, 0.61, 0.69, 0.70, 0.72, 0.78, 0.87, 0.88, 0.94, 0.93, 0.97, 0.89, 0.93, 0.95, 0.91, 0.92, 1.01, 0.94, 0.93, 0.83, 0.75, 0.72];
const profile119 = [0.64, 0.62, 0.66, 0.64, 0.61, 0.74, 0.77, 0.81, 0.80, 0.93, 0.99, 0.96, 0.89, 0.96, 0.90, 0.89, 0.94, 0.89, 0.92, 0.99, 0.86, 0.90, 0.77, 0.68];
const profile120 = [0.66, 0.68, 0.59, 0.62, 0.65, 0.66, 0.71, 0.85, 0.85, 0.89, 0.93, 0.91, 0.94, 0.93, 0.96, 0.96, 0.86, 0.93, 0.97, 0.91, 0.98, 0.86, 0.80, 0.73];
const profile121 = [0.62, 0.65, 0.64, 0.60, 0.67, 0.72, 0.78, 0.77, 0.90, 0.85, 0.96, 0.99, 0.92, 0.87, 0.91, 0.92, 0.96, 0.91, 0.94, 1.00, 0.91, 0.89, 0.73, 0.70];
const profile122 = [0.69, 0.61, 0.61, 0.65, 0.62, 0.68, 0.74, 0.82, 0.86, 0.92, 0.89, 0.94, 0.97, 0.95, 0.95, 0.88, 0.92, 0.87, 0.99, 0.96, 0.94, 0.85, 0.79, 0.67];
const profile123 = [0.67, 0.66, 0.65, 0.63, 0.68, 0.75, 0.69, 0.80, 0.83, 0.87, 0.98, 0.92, 0.90, 0.98, 0.89, 0.99, 0.89, 0.94, 0.90, 0.93, 0.89, 0.92, 0.81, 0.74];
const profile124 = [0.60, 0.63, 0.62, 0.61, 0.63, 0.70, 0.76, 0.84, 0.88, 0.90, 0.91, 0.97, 0.95, 0.91, 0.97, 0.91, 0.95, 0.90, 0.96, 1.02, 0.95, 0.87, 0.76, 0.71];
const profile125 = [0.71, 0.67, 0.60, 0.64, 0.66, 0.67, 0.72, 0.79, 0.84, 0.94, 0.95, 0.90, 0.99, 0.93, 0.88, 0.95, 0.88, 0.88, 1.02, 0.90, 0.92, 0.84, 0.78, 0.69];
const profile126 = [0.65, 0.60, 0.63, 0.62, 0.64, 0.73, 0.77, 0.83, 0.91, 0.86, 0.92, 0.96, 0.88, 0.96, 0.94, 0.90, 0.93, 0.92, 0.93, 0.98, 0.97, 0.88, 0.74, 0.73];
const profile127 = [0.63, 0.64, 0.66, 0.66, 0.70, 0.69, 0.73, 0.78, 0.85, 0.91, 0.97, 0.93, 0.94, 0.89, 0.99, 0.97, 0.90, 0.85, 0.97, 0.95, 0.88, 0.90, 0.80, 0.66];
const profile128 = [0.68, 0.69, 0.62, 0.59, 0.61, 0.71, 0.70, 0.86, 0.82, 0.88, 0.90, 0.98, 0.97, 0.94, 0.90, 0.93, 0.97, 0.93, 1.00, 1.01, 0.93, 0.83, 0.77, 0.72];
const profile129 = [0.66, 0.63, 0.59, 0.63, 0.65, 0.74, 0.79, 0.80, 0.87, 0.92, 0.93, 0.91, 0.92, 0.97, 0.93, 0.89, 0.91, 0.90, 0.91, 0.94, 0.96, 0.86, 0.82, 0.70];
const profile130 = [0.61, 0.66, 0.64, 0.65, 0.67, 0.66, 0.75, 0.82, 0.89, 0.84, 0.96, 0.95, 0.96, 0.90, 0.96, 0.96, 0.87, 0.94, 0.95, 0.99, 0.90, 0.91, 0.75, 0.74];
const profile131 = [0.69, 0.62, 0.63, 0.61, 0.62, 0.70, 0.71, 0.77, 0.83, 0.89, 0.99, 0.93, 0.89, 0.92, 0.91, 0.92, 0.94, 0.87, 0.98, 0.92, 0.94, 0.85, 0.79, 0.68];
const profile132 = [0.64, 0.68, 0.61, 0.64, 0.69, 0.72, 0.78, 0.84, 0.86, 0.93, 0.89, 0.97, 0.98, 0.95, 0.89, 0.98, 0.92, 0.91, 1.03, 0.97, 0.89, 0.88, 0.77, 0.71];
const profile133 = [0.67, 0.61, 0.65, 0.62, 0.64, 0.68, 0.73, 0.81, 0.90, 0.87, 0.94, 1.00, 0.93, 0.88, 0.97, 0.87, 0.89, 0.95, 0.92, 1.02, 0.97, 0.84, 0.81, 0.73];
const profile134 = [0.62, 0.65, 0.60, 0.66, 0.66, 0.75, 0.76, 0.79, 0.85, 0.90, 0.97, 0.92, 0.91, 0.96, 0.92, 0.94, 0.96, 0.89, 0.96, 0.95, 0.92, 0.90, 0.74, 0.67];

const profiles = [
  profile01, profile02, profile03, profile04, profile05, profile06, profile07, profile08, profile09, profile10,
  profile11, profile12, profile13, profile14, profile15, profile16, profile17, profile18, profile19, profile20,
  profile21, profile22, profile23, profile24, profile25, profile26, profile27, profile28, profile29, profile30,
  profile31, profile32, profile33, profile34, profile35, profile36, profile37, profile38, profile39, profile40,
  profile41, profile42, profile43, profile44, profile45, profile46, profile47, profile48, profile49, profile50,
  profile51, profile52, profile53, profile54, profile55, profile56, profile57, profile58, profile59, profile60,
  profile61, profile62, profile63, profile64, profile65, profile66, profile67, profile68, profile69, profile70,
  profile71, profile72, profile73, profile74, profile75, profile76, profile77, profile78, profile79, profile80,
  profile81, profile82, profile83, profile84, profile85, profile86, profile87, profile88, profile89, profile90,
  profile91, profile92, profile93, profile94, profile95, profile96, profile97, profile98, profile99, profile100,
  profile101, profile102, profile103, profile104, profile105, profile106, profile107, profile108, profile109, profile110,
  profile111, profile112, profile113, profile114, profile115, profile116, profile117, profile118, profile119, profile120,
  profile121, profile122, profile123, profile124, profile125, profile126, profile127, profile128, profile129, profile130,
  profile131, profile132, profile133, profile134
];

const FONT = "'Liberation Serif', 'DejaVu Serif', serif";

// short grey tick marks drawn inside the frame, plus the black frame itself
const frameTicks = {
  id: 'frameTicks',
  beforeDatasetsDraw(chart) {
    const { ctx, chartArea: a, scales } = chart;
    const len = 32;
    ctx.save();
    ctx.strokeStyle = '#808080';
    ctx.lineWidth = 2;
    ctx.beginPath();
    hours.forEach(h => {
      const x = scales.x.getPixelForValue(h);
      ctx.moveTo(x, a.bottom); ctx.lineTo(x, a.bottom - len);
      ctx.moveTo(x, a.top); ctx.lineTo(x, a.top + len);
    });
    yTicks.forEach(v => {
      const y = scales.y.getPixelForValue(v);
      ctx.moveTo(a.left, y); ctx.lineTo(a.left + len, y);
      ctx.moveTo(a.right, y); ctx.lineTo(a.right - len, y);
    });
    ctx.stroke();
    ctx.restore();
  },
  afterDatasetsDraw(chart) {
    const { ctx, chartArea: a } = chart;
    ctx.save();
    ctx.strokeStyle = '#000';
    ctx.lineWidth = 4;
    ctx.strokeRect(a.left, a.top, a.right - a.left, a.bottom - a.top);
    ctx.restore();
  }
};

const datasets = profiles.map((p, i) => ({
  label: 'day ' + (i + 1),
  data: p.map((v, k) => ({ x: hours[k], y: v })),
  borderColor: '#000',
  borderWidth: 4.5,
  borderJoinStyle: 'miter',
  pointRadius: 0,
  tension: 0,
  fill: false
}));

new Chart(document.getElementById('loadChart').getContext('2d'), {
  type: 'line',
  data: { datasets },
  options: {
    responsive: false,
    animation: false,
    devicePixelRatio: 1,
    layout: { padding: { left: 0, right: 60, top: 68, bottom: 0 } },
    plugins: { legend: { display: false }, tooltip: { enabled: false } },
    scales: {
      x: {
        type: 'linear',
        min: 1,
        max: 24,
        afterBuildTicks: scale => { scale.ticks = hours.map(h => ({ value: h })); },
        afterFit: scale => { scale.height = 237; },
        grid: { color: '#c0c0c0', lineWidth: 3, drawTicks: false },
        border: { display: false },
        ticks: { color: '#000', font: { family: FONT, size: 64 }, padding: 20, maxRotation: 0, autoSkip: false },
        title: { display: true, text: 'Hour of Day', color: '#000', font: { family: FONT, size: 70 }, padding: { top: 0, bottom: 25 } }
      },
      y: {
        type: 'linear',
        min: 0.55,
        max: 1.05,
        afterBuildTicks: scale => { scale.ticks = yTicks.map(v => ({ value: v })); },
        afterFit: scale => { scale.width = 315; },
        grid: { color: '#c0c0c0', lineWidth: 3, drawTicks: false },
        border: { display: false },
        ticks: {
          color: '#000',
          font: { family: FONT, size: 64 },
          padding: 30,
          callback: v => (v < 0.575 ? '' : String(Math.round(v * 100) / 100))
        },
        title: { display: true, text: 'Power (p.u.)', color: '#000', font: { family: FONT, size: 70 }, padding: { top: 31, bottom: 0 } }
      }
    }
  },
  plugins: [frameTicks]
});
</script>
</body>
</html>
